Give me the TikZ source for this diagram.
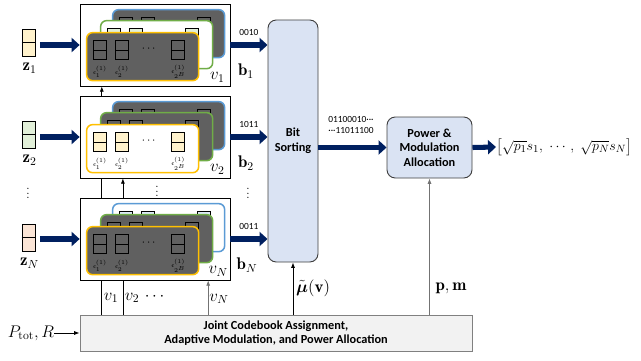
\documentclass[tikz,border=0pt]{standalone}
\usepackage{amsmath}
\usepackage{fontspec}
\setsansfont{Carlito}
\usetikzlibrary{calc, positioning, arrows.meta}

\definecolor{navy}{HTML}{002060}
\definecolor{cardgray}{HTML}{606060}
\definecolor{cblue}{HTML}{5B9BD5}
\definecolor{cgreen}{HTML}{70AD47}
\definecolor{cgold}{HTML}{FFC000}
\definecolor{lgold}{HTML}{FFF2CC}
\definecolor{lgreen}{HTML}{E2F0D9}
\definecolor{lblue}{HTML}{DEEBF7}
\definecolor{lpink}{HTML}{FBE5D6}
\definecolor{procblue}{HTML}{DAE3F3}
\definecolor{jointgray}{HTML}{F2F2F2}

% one codebook card: box, offset x, offset y, border, fill, cell fill
\newcommand{\card}[6]{%
  \draw[#4, fill=#5, line width=1.3pt, rounded corners=5pt] ($(#1.north west)+(#2,#3)$) rectangle ++(112,48);
  \foreach \dx in {7,29,85} {
    \draw[fill=#6, line width=0.6pt] ($(#1.north west)+(#2+\dx,#3+8)$) rectangle ++(13,19);
    \draw[line width=0.6pt] ($(#1.north west)+(#2+\dx,#3+17.5)$) -- ++(13,0);
  }
  \node at ($(#1.north west)+(#2+63,#3+16)$) {$\cdots$};
}
% labels under the codewords of the front card
\newcommand{\clabels}[1]{%
  \node[clab] at ($(#1.north west)+(20.5,68)$) {$\mathbf{c}_1^{(1)}$};
  \node[clab] at ($(#1.north west)+(42.5,68)$) {$\mathbf{c}_2^{(1)}$};
  \node[clab] at ($(#1.north west)+(99,68)$) {$\mathbf{c}_{2^B}^{(1)}$};
}
\newcommand{\tdots}{\textperiodcentered\textperiodcentered\textperiodcentered}

\begin{document}
\begin{tikzpicture}[x=0.03cm, y=-0.03cm,
    frame/.style={draw, fill=white, line width=0.6pt, minimum width=4.5cm, minimum height=2.46cm, inner sep=0},
    zvec/.style={draw, line width=0.5pt, minimum width=0.39cm, minimum height=0.81cm, inner sep=0},
    proc/.style={draw=black!75, fill=procblue, rounded corners=7pt, line width=0.8pt, font=\sffamily\bfseries\fontsize{10.5}{12.5}\selectfont, align=center, inner sep=0},
    joint/.style={draw=black!50, fill=jointgray, line width=0.8pt, minimum width=11.76cm, minimum height=1.08cm, font=\sffamily\bfseries\fontsize{10.5}{12.5}\selectfont, align=center, inner sep=0},
    fat/.style={navy, line width=4.3pt, -{Triangle[length=0.24cm, width=0.42cm]}},
    thin/.style={line width=0.6pt, -{Latex[length=0.16cm, width=0.12cm]}},
    bits/.style={font=\sffamily\fontsize{8}{10}\selectfont, text=black, inner sep=1pt},
    lab/.style={font=\Large, inner sep=0},
    clab/.style={font=\tiny, inner sep=0},
  ]
  \useasboundingbox (0,0) rectangle (641,360);

  % inputs
  \node[zvec, fill=lgold] (z1) at (28.5,42.5) {};
  \node[zvec, fill=lgreen] (z2) at (28.5,134.5) {};
  \node[zvec, fill=lpink] (zN) at (28.5,237.5) {};
  \draw (z1.west) -- (z1.east);
  \draw (z2.west) -- (z2.east);
  \draw (zN.west) -- (zN.east);
  \node[lab] (lz1) at (29.5,68) {$\mathbf{z}_1$};
  \node[lab] (lz2) at (29.5,160) {$\mathbf{z}_2$};
  \node[lab] (lzN) at (29.5,263) {$\mathbf{z}_N$};
  \node (zdots) at (28,190) {$\vdots$};

  % codebook boxes
  \node[frame] (e1) at (155,45) {};
  \node[frame] (e2) at (155,137) {};
  \node[frame] (eN) at (155,239) {};
  \node (edots) at (157,188) {$\vdots$};

  \card{e1}{33}{6}{cblue}{cardgray}{cardgray}
  \card{e1}{21}{17}{cgreen}{white}{lgreen}
  \card{e1}{7}{29}{cgold}{cardgray}{cardgray}
  \clabels{e1}
  \card{e2}{33}{6}{cblue}{cardgray}{cardgray}
  \card{e2}{21}{17}{cgreen}{cardgray}{cardgray}
  \card{e2}{7}{29}{cgold}{white}{lgold}
  \clabels{e2}
  \card{eN}{33}{6}{cblue}{white}{lblue}
  \card{eN}{21}{17}{cgreen}{cardgray}{cardgray}
  \card{eN}{7}{29}{cgold}{cardgray}{cardgray}
  \clabels{eN}

  \node[lab] (v1) at ($(e1.south east)+(-13,-9)$) {$v_1$};
  \node[lab] (v2) at ($(e2.south east)+(-13,-9)$) {$v_2$};
  \node[lab] (vN) at ($(eN.south east)+(-12,-9)$) {$v_N$};

  % blocks
  \node[proc, minimum width=1.5cm, minimum height=7.26cm] (bs) at (293,141) {Bit\\Sorting};
  \node[proc, minimum width=2.55cm, minimum height=1.83cm] (pw) at (429.5,147.5) {Power \&\\Modulation\\Allocation};
  \node[joint] (jca) at (276,333) {Joint Codebook Assignment,\\Adaptive Modulation, and Power Allocation};
  \node[anchor=west, inner sep=0, font=\fontsize{13}{15}\selectfont] (out) at (496,147) {$\bigl[\sqrt{p_1}s_1,\; \cdots,\; \sqrt{p_N}s_N\bigr]$};
  \node[lab] (ptot) at (31,333) {$P_{\mathrm{tot}}, R$};

  % fat data arrows
  \draw[fat, shorten <=4pt] (z1.east |- e1.west) -- (e1.west);
  \draw[fat, shorten <=4pt] (z2.east |- e2.west) -- (e2.west);
  \draw[fat, shorten <=4pt] (zN.east |- eN.west) -- (eN.west);
  \draw[fat] (e1.east) -- node[bits, above=5pt] {0010} (e1.east -| bs.west);
  \draw[fat] (e2.east) -- node[bits, above=5pt] {1011} (e2.east -| bs.west);
  \draw[fat] (eN.east) -- node[bits, above=5pt] {0011} (eN.east -| bs.west);
  \draw[fat] (bs.east |- pw.west) -- (pw.west);
  \draw[fat] (pw.east) -- (out.west);
  \node[bits, align=left] (bstr) at (351,125) {01100010\tdots\\\tdots11011100};

  \node[lab] (b1) at (246,71) {$\mathbf{b}_1$};
  \node[lab] (b2) at (246,163) {$\mathbf{b}_2$};
  \node[lab] (bN) at (247,265) {$\mathbf{b}_N$};
  \node (bdots) at (248,190) {$\vdots$};

  % control lines
  \coordinate (s1) at ($(e1.south west)!.147!(e1.south east)$);
  \coordinate (s2) at ($(e2.south west)!.287!(e2.south east)$);
  \coordinate (sN) at ($(eN.south west)!.853!(eN.south east)$);
  \draw[line width=0.6pt] (s1 |- jca.north) -- (s1 |- eN.south);
  \draw[line width=0.6pt] (s1 |- eN.north) -- (s1 |- e2.south);
  \draw[thin] (s1 |- e2.north) -- (s1);
  \draw[line width=0.6pt] (s2 |- jca.north) -- (s2 |- eN.south);
  \draw[thin] (s2 |- eN.north) -- (s2);
  \draw[thin, black!55] (sN |- jca.north) -- (sN);
  \node[lab] (lv1) at (111,298) {$v_1$};
  \node[lab] (lv2) at (132,298) {$v_2$};
  \node[lab] (lvdots) at (156,297) {$\cdots$};
  \node[lab] (lvN) at (219,299) {$v_N$};

  \draw[thin] (jca.north -| bs.south) -- (bs.south);
  \node[lab, anchor=west] (lmu) at (296,288) {$\tilde{\boldsymbol{\mu}}(\mathbf{v})$};
  \draw[thin, black!55] (jca.north -| pw.south) -- (pw.south);
  \node[lab] (lpm) at (451,288) {$\mathbf{p},\mathbf{m}$};
  \draw[thin] (ptot) -- (jca.west);
\end{tikzpicture}
\end{document}
